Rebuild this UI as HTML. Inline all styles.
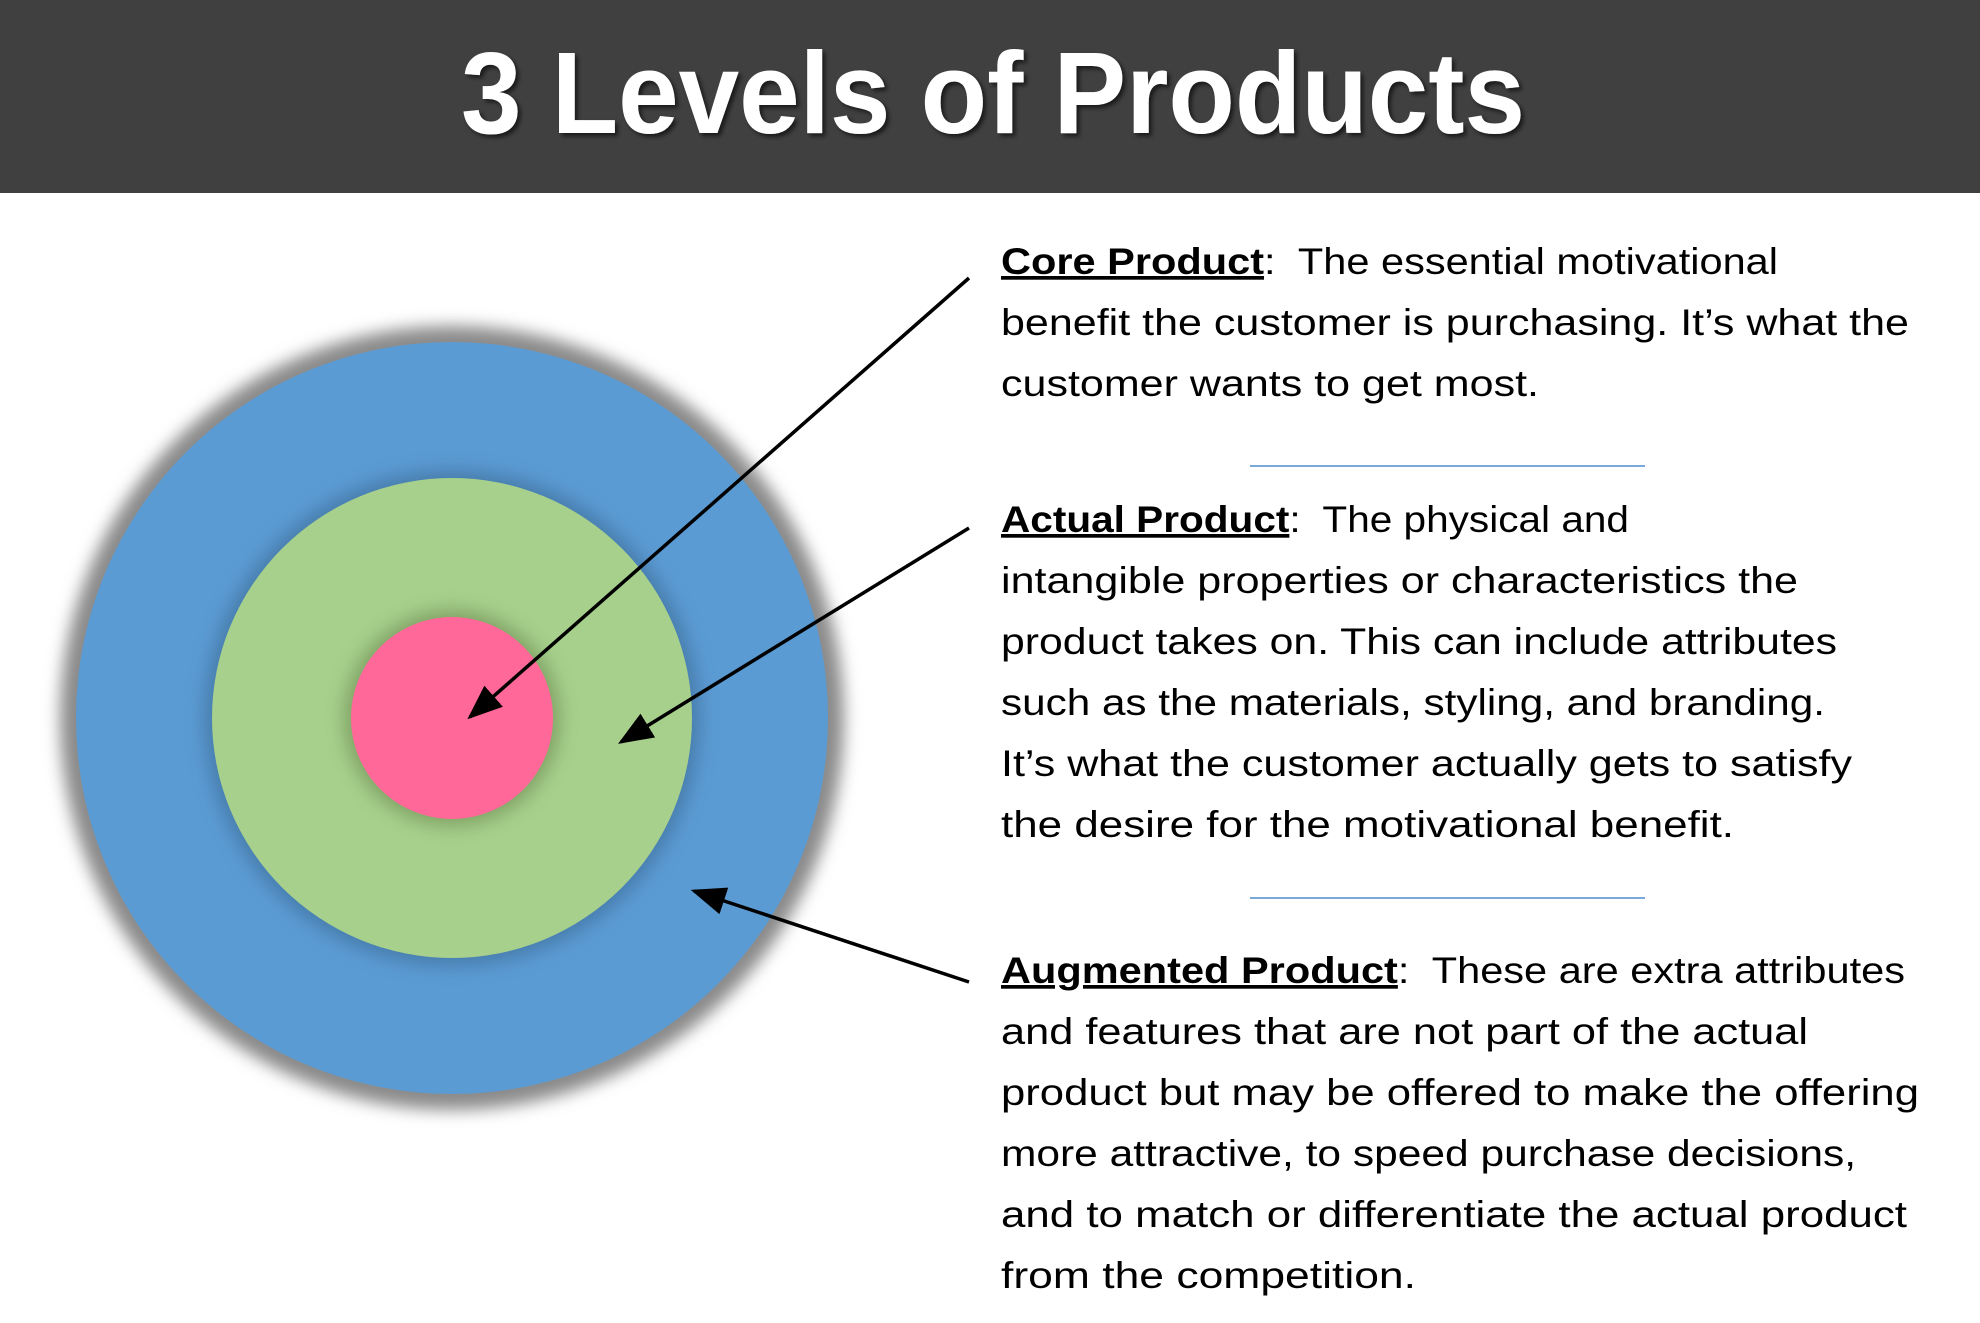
<!DOCTYPE html>
<html><head><meta charset="utf-8"><style>
html,body{margin:0;padding:0;background:#fff;}
svg{display:block;}
</style></head><body>
<svg width="1980" height="1323" viewBox="0 0 1980 1323" xmlns="http://www.w3.org/2000/svg">
<defs>
<filter id="b1" x="-20%" y="-20%" width="140%" height="140%"><feGaussianBlur stdDeviation="8"/></filter>
<filter id="b2" x="-20%" y="-20%" width="140%" height="140%"><feGaussianBlur stdDeviation="9"/></filter>
<filter id="ts" x="-5%" y="-20%" width="110%" height="140%"><feDropShadow dx="3" dy="3" stdDeviation="2" flood-color="#000" flood-opacity="0.6"/></filter>
<marker id="ah" markerWidth="10" markerHeight="8" refX="9" refY="4" orient="auto" markerUnits="strokeWidth"><path d="M0,0 L10,4 L0,8 z" fill="#000"/></marker>
</defs>
<rect x="0" y="0" width="1980" height="193" fill="#404040"/>
<text x="993" y="133" text-anchor="middle" font-family="Liberation Sans, sans-serif" font-weight="bold" font-size="116" fill="#fff" textLength="1064" lengthAdjust="spacingAndGlyphs" filter="url(#ts)">3 Levels of Products</text>

<circle cx="452" cy="718" r="392" fill="#8a8a8a" filter="url(#b1)"/>
<circle cx="452" cy="718" r="376" fill="#5b9bd3"/>
<circle cx="452" cy="718" r="248" fill="#3f6f9c" opacity="0.7" filter="url(#b2)"/>
<circle cx="452" cy="718" r="240" fill="#a7d08c"/>
<circle cx="452" cy="718" r="108" fill="#6f8f55" opacity="0.7" filter="url(#b2)"/>
<circle cx="452" cy="718" r="101" fill="#ff6898"/>

<g stroke="#000" stroke-width="3.5" fill="none">
<line x1="969" y1="278" x2="470" y2="717" marker-end="url(#ah)"/>
<line x1="969" y1="528" x2="621" y2="742" marker-end="url(#ah)"/>
<line x1="969" y1="982" x2="694" y2="891" marker-end="url(#ah)"/>
</g>

<line x1="1250" y1="466" x2="1645" y2="466" stroke="#7aaad8" stroke-width="2"/>
<line x1="1250" y1="898" x2="1645" y2="898" stroke="#7aaad8" stroke-width="2"/>

<g font-family="Liberation Sans, sans-serif" font-size="37" fill="#000">
<text x="1001" y="274" textLength="777" lengthAdjust="spacingAndGlyphs"><tspan font-weight="bold" text-decoration="underline">Core Product</tspan>:&#160; The essential motivational</text>
<text x="1001" y="335" textLength="908" lengthAdjust="spacingAndGlyphs">benefit the customer is purchasing. It’s what the</text>
<text x="1001" y="396" textLength="538" lengthAdjust="spacingAndGlyphs">customer wants to get most.</text>

<text x="1001" y="532" textLength="628" lengthAdjust="spacingAndGlyphs"><tspan font-weight="bold" text-decoration="underline">Actual Product</tspan>:&#160; The physical and</text>
<text x="1001" y="593" textLength="797" lengthAdjust="spacingAndGlyphs">intangible properties or characteristics the</text>
<text x="1001" y="654" textLength="836" lengthAdjust="spacingAndGlyphs">product takes on. This can include attributes</text>
<text x="1001" y="715" textLength="824" lengthAdjust="spacingAndGlyphs">such as the materials, styling, and branding.</text>
<text x="1001" y="776" textLength="851" lengthAdjust="spacingAndGlyphs">It’s what the customer actually gets to satisfy</text>
<text x="1001" y="837" textLength="733" lengthAdjust="spacingAndGlyphs">the desire for the motivational benefit.</text>

<text x="1001" y="983" textLength="904" lengthAdjust="spacingAndGlyphs"><tspan font-weight="bold" text-decoration="underline">Augmented Product</tspan>:&#160; These are extra attributes</text>
<text x="1001" y="1044" textLength="807" lengthAdjust="spacingAndGlyphs">and features that are not part of the actual</text>
<text x="1001" y="1105" textLength="918" lengthAdjust="spacingAndGlyphs">product but may be offered to make the offering</text>
<text x="1001" y="1166" textLength="855" lengthAdjust="spacingAndGlyphs">more attractive, to speed purchase decisions,</text>
<text x="1001" y="1227" textLength="906" lengthAdjust="spacingAndGlyphs">and to match or differentiate the actual product</text>
<text x="1001" y="1288" textLength="415" lengthAdjust="spacingAndGlyphs">from the competition.</text>
</g>
</svg>
</body></html>
